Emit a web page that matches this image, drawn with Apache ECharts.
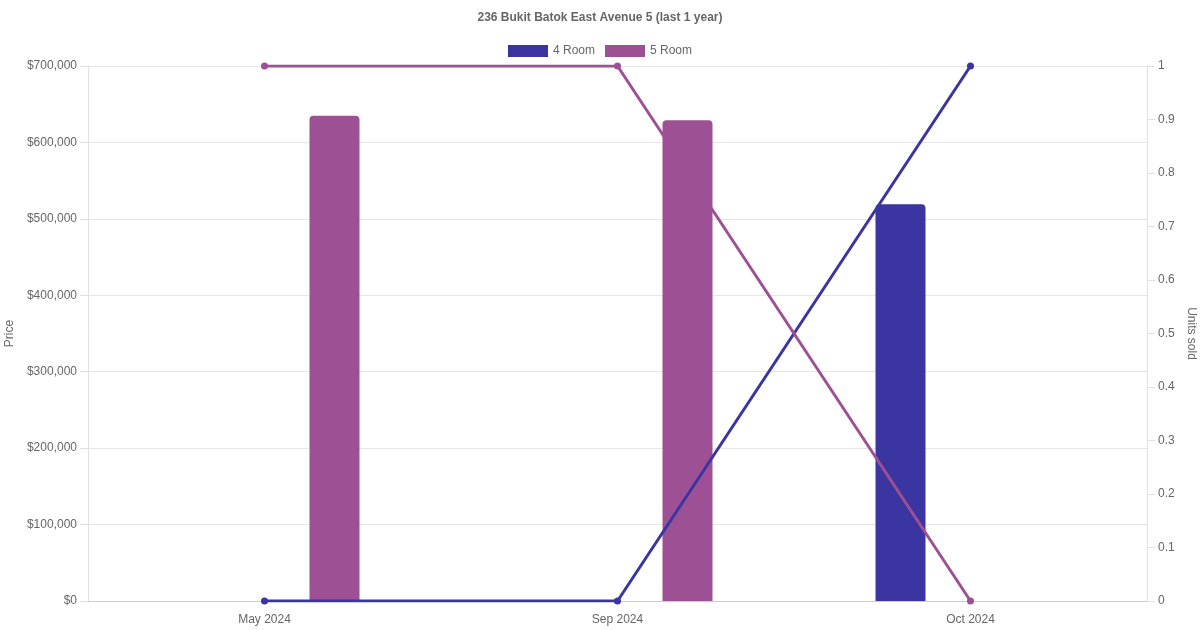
<!DOCTYPE html>
<html>
<head>
<meta charset="utf-8">
<script src="https://cdn.jsdelivr.net/npm/echarts@6/dist/echarts.min.js"></script>
<style>
html,body{margin:0;padding:0;background:#fff;}
#c{width:1200px;height:630px;}
</style>
</head>
<body>
<div id="c"></div>
<script>
const categories = ['May 2024', 'Sep 2024', 'Oct 2024'];
const price4Room = [null, null, 519000];
const price5Room = [635000, 629000, null];
const units4Room = [0, 0, 1];
const units5Room = [1, 1, 0];

const C4 = '#3a35a0';
const C5 = '#9e5094';
const FONT = '"Liberation Sans", Arial, Helvetica, sans-serif';

const chart = echarts.init(document.getElementById('c'));
chart.setOption({
  animation: false,
  textStyle: { fontFamily: FONT },
  title: {
    text: '236 Bukit Batok East Avenue 5 (last 1 year)',
    left: 'center', top: 7,
    textStyle: { fontSize: 12, fontWeight: 'bold', color: '#666', fontFamily: FONT }
  },
  legend: {
    top: 40, left: 'center',
    itemWidth: 40, itemHeight: 12, itemGap: 10,
    textStyle: { fontSize: 12, color: '#666', fontFamily: FONT },
    data: [
      { name: '4 Room', icon: 'rect', itemStyle: { color: C4 } },
      { name: '5 Room', icon: 'rect', itemStyle: { color: C5 } }
    ]
  },
  grid: { left: 88, right: 53, top: 66, bottom: 29, containLabel: false, outerBoundsMode: 'none' },
  xAxis: {
    type: 'category',
    data: categories,
    boundaryGap: true,
    axisLine: { show: true, lineStyle: { color: '#ccc' } },
    axisTick: { show: false },
    axisLabel: { color: '#666', fontSize: 12, margin: 13 },
    splitLine: { show: false }
  },
  yAxis: [
    {
      type: 'value', min: 0, max: 700000, interval: 100000,
      name: 'Price', nameLocation: 'middle', nameGap: 67,
      nameTextStyle: { color: '#666', fontSize: 12 },
      axisLine: { show: true, lineStyle: { color: '#e0e0e0' } },
      axisTick: { show: true, length: 8, lineStyle: { color: '#e0e0e0' } },
      axisLabel: { color: '#666', fontSize: 12, margin: 11,
        formatter: v => '$' + v.toLocaleString('en-US') },
      splitLine: { show: true, lineStyle: { color: '#e6e6e6' } }
    },
    {
      type: 'value', min: 0, max: 1, interval: 0.1,
      name: 'Units sold', nameLocation: 'middle', nameGap: 34, nameRotate: -90,
      nameTextStyle: { color: '#666', fontSize: 12 },
      axisLine: { show: true, lineStyle: { color: '#e0e0e0' } },
      axisTick: { show: true, length: 8, lineStyle: { color: '#e0e0e0' } },
      axisLabel: { color: '#666', fontSize: 12, margin: 11,
        formatter: v => String(+v.toFixed(1)) },
      splitLine: { show: false }
    }
  ],
  series: [
    {
      name: '4 Room', type: 'bar', yAxisIndex: 0, data: price4Room,
      barWidth: 50, barGap: '180%',
      itemStyle: { color: C4, borderRadius: [4, 4, 0, 0] }, z: 2
    },
    {
      name: '5 Room', type: 'bar', yAxisIndex: 0, data: price5Room,
      barWidth: 50, barGap: '180%',
      itemStyle: { color: C5, borderRadius: [4, 4, 0, 0] }, z: 2
    },
    {
      name: '4 Room', type: 'line', yAxisIndex: 1, data: units4Room,
      symbol: 'circle', symbolSize: 7, showAllSymbol: true,
      lineStyle: { color: C4, width: 3 }, itemStyle: { color: C4 }, z: 3
    },
    {
      name: '5 Room', type: 'line', yAxisIndex: 1, data: units5Room,
      symbol: 'circle', symbolSize: 7, showAllSymbol: true,
      lineStyle: { color: C5, width: 3 }, itemStyle: { color: C5 }, z: 3
    }
  ]
});
</script>
</body>
</html>
